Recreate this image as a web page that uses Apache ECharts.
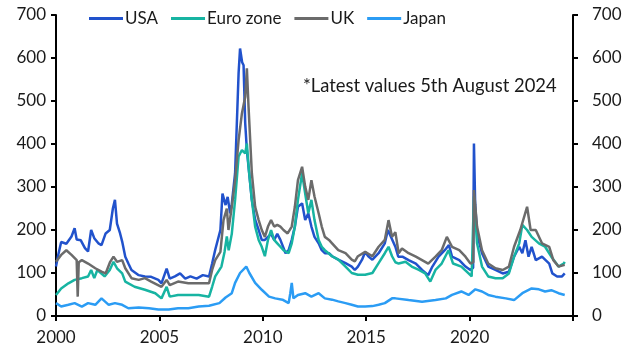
<!DOCTYPE html>
<html><head><meta charset="utf-8">
<script src="https://cdn.jsdelivr.net/npm/echarts@6/dist/echarts.min.js"></script>
<style>html,body{margin:0;padding:0;background:#fff}#c{width:631px;height:359px}</style>
</head><body><div id="c"></div>
<script>
const seriesNames = ['USA', 'Euro zone', 'UK', 'Japan'];
const xTicks = [2000, 2005, 2010, 2015, 2020];
const yTicks = [0, 100, 200, 300, 400, 500, 600, 700];
const note = '*Latest values 5th August 2024';

const usa = [[2000.0,115],[2000.1,140],[2000.25,172],[2000.5,168],[2000.75,185],[2000.9,204],[2001.0,178],[2001.2,176],[2001.4,158],[2001.55,150],[2001.7,200],[2001.85,181],[2002.05,169],[2002.2,165],[2002.4,192],[2002.6,200],[2002.75,250],[2002.85,270],[2002.95,215],[2003.1,192],[2003.2,173],[2003.35,138],[2003.5,122],[2003.65,107],[2004.0,95],[2004.3,92],[2004.6,91],[2004.95,84],[2005.1,76],[2005.35,110],[2005.5,87],[2005.75,92],[2006.0,99],[2006.25,87],[2006.5,92],[2006.8,87],[2007.1,95],[2007.4,92],[2007.55,122],[2007.7,154],[2007.95,200],[2008.05,285],[2008.2,258],[2008.3,277],[2008.42,239],[2008.5,260],[2008.66,332],[2008.83,565],[2008.9,622],[2009.0,590],[2009.07,583],[2009.15,448],[2009.23,386],[2009.47,270],[2009.63,224],[2009.8,200],[2009.95,177],[2010.1,177],[2010.25,184],[2010.4,191],[2010.55,177],[2010.7,191],[2010.85,177],[2011.1,146],[2011.25,153],[2011.4,177],[2011.55,208],[2011.7,254],[2011.9,262],[2012.05,223],[2012.2,239],[2012.35,208],[2012.5,184],[2012.7,169],[2012.85,153],[2013.0,146],[2013.2,146],[2013.35,139],[2013.65,131],[2014.0,123],[2014.3,115],[2014.45,107],[2014.6,115],[2014.8,131],[2014.95,149],[2015.1,139],[2015.3,131],[2015.6,146],[2015.9,169],[2016.05,200],[2016.2,184],[2016.41,161],[2016.55,138],[2016.75,138],[2017.05,130],[2017.4,122],[2017.7,107],[2018.0,95],[2018.2,115],[2018.5,138],[2018.8,153],[2019.0,165],[2019.15,138],[2019.5,130],[2019.8,115],[2020.04,107],[2020.17,112],[2020.21,401],[2020.27,260],[2020.35,200],[2020.44,176],[2020.6,146],[2020.9,115],[2021.25,107],[2021.6,99],[2021.9,103],[2022.15,138],[2022.4,161],[2022.55,146],[2022.7,176],[2022.85,138],[2023.0,161],[2023.2,130],[2023.5,138],[2023.85,122],[2024.0,99],[2024.23,92],[2024.47,92],[2024.6,99]];

const euro = [[2000.0,49],[2000.25,64],[2000.6,76],[2000.9,84],[2001.25,88],[2001.55,92],[2001.7,107],[2001.85,88],[2002.0,107],[2002.35,92],[2002.6,107],[2002.78,126],[2002.95,111],[2003.2,99],[2003.35,80],[2003.8,68],[2004.3,61],[2004.8,53],[2005.1,41],[2005.35,68],[2005.5,45],[2005.9,49],[2006.4,49],[2006.9,49],[2007.4,45],[2007.55,68],[2007.7,92],[2008.0,115],[2008.15,149],[2008.26,185],[2008.35,153],[2008.5,191],[2008.66,270],[2008.83,371],[2008.99,386],[2009.15,378],[2009.23,401],[2009.31,348],[2009.47,270],[2009.63,208],[2009.8,177],[2009.95,161],[2010.1,139],[2010.25,177],[2010.4,200],[2010.55,177],[2010.7,169],[2010.85,161],[2011.0,153],[2011.25,146],[2011.4,169],[2011.55,208],[2011.7,270],[2011.9,332],[2012.05,285],[2012.2,239],[2012.35,270],[2012.5,223],[2012.7,177],[2012.85,161],[2013.0,153],[2013.35,139],[2013.65,131],[2014.0,115],[2014.3,100],[2014.6,96],[2014.95,96],[2015.3,100],[2015.6,123],[2015.9,146],[2016.08,161],[2016.25,139],[2016.41,125],[2016.57,122],[2016.9,126],[2017.2,115],[2017.55,107],[2017.85,99],[2018.1,80],[2018.35,107],[2018.65,122],[2018.98,153],[2019.2,122],[2019.6,115],[2019.95,99],[2020.1,92],[2020.18,95],[2020.21,278],[2020.36,169],[2020.6,115],[2020.9,92],[2021.25,88],[2021.6,88],[2021.9,99],[2022.15,138],[2022.4,169],[2022.55,212],[2022.78,200],[2023.0,184],[2023.35,169],[2023.65,161],[2023.95,138],[2024.3,115],[2024.55,122],[2024.6,126]];

const uk = [[2000.0,126],[2000.25,142],[2000.5,153],[2000.75,142],[2001.0,130],[2001.05,45],[2001.1,125],[2001.25,130],[2001.55,122],[2001.9,111],[2002.2,103],[2002.4,99],[2002.62,126],[2002.78,138],[2002.95,126],[2003.2,130],[2003.35,111],[2003.65,88],[2004.0,84],[2004.3,88],[2004.6,80],[2005.1,68],[2005.35,84],[2005.5,72],[2005.9,80],[2006.4,76],[2006.9,76],[2007.4,76],[2007.55,107],[2007.7,130],[2007.95,149],[2008.1,223],[2008.26,250],[2008.34,200],[2008.5,254],[2008.66,316],[2008.83,409],[2008.99,471],[2009.15,510],[2009.23,576],[2009.31,487],[2009.47,332],[2009.63,254],[2009.8,223],[2009.95,200],[2010.1,184],[2010.25,208],[2010.4,223],[2010.55,208],[2010.7,212],[2010.85,208],[2011.0,200],[2011.2,192],[2011.4,208],[2011.55,254],[2011.7,316],[2011.9,347],[2012.05,301],[2012.2,270],[2012.35,316],[2012.5,278],[2012.7,239],[2012.85,208],[2013.0,184],[2013.2,177],[2013.35,169],[2013.65,153],[2014.0,146],[2014.3,131],[2014.45,127],[2014.6,139],[2014.95,149],[2015.3,139],[2015.6,161],[2015.9,177],[2016.08,223],[2016.25,184],[2016.41,195],[2016.57,146],[2016.73,157],[2017.05,146],[2017.4,138],[2017.7,130],[2018.0,122],[2018.35,138],[2018.65,153],[2018.9,184],[2019.15,161],[2019.5,153],[2019.8,138],[2020.04,122],[2020.18,125],[2020.21,293],[2020.36,208],[2020.6,153],[2020.9,122],[2021.25,111],[2021.6,107],[2021.9,115],[2022.15,161],[2022.45,200],[2022.78,254],[2022.95,200],[2023.2,200],[2023.5,169],[2023.85,161],[2024.05,130],[2024.3,115],[2024.6,119]];

const japan = [[2000.0,30],[2000.25,22],[2000.6,26],[2000.9,30],[2001.25,22],[2001.55,30],[2001.9,26],[2002.2,41],[2002.55,26],[2002.85,30],[2003.2,26],[2003.5,18],[2004.0,20],[2004.5,18],[2004.95,15],[2005.45,15],[2005.9,18],[2006.4,18],[2006.9,22],[2007.4,24],[2007.9,30],[2008.2,43],[2008.5,53],[2008.66,77],[2008.9,100],[2009.2,115],[2009.35,100],[2009.63,77],[2009.95,61],[2010.3,45],[2010.6,41],[2010.95,38],[2011.25,30],[2011.33,53],[2011.4,77],[2011.48,41],[2011.7,49],[2012.05,53],[2012.35,45],[2012.7,53],[2013.0,41],[2013.35,38],[2013.65,34],[2014.0,30],[2014.3,26],[2014.6,22],[2014.95,22],[2015.3,23],[2015.6,26],[2015.9,30],[2016.25,41],[2016.41,41],[2017.05,37],[2017.7,33],[2018.35,37],[2018.85,41],[2019.15,49],[2019.6,57],[2019.95,49],[2020.28,62],[2020.6,57],[2020.9,49],[2021.25,45],[2021.75,41],[2022.15,37],[2022.55,53],[2023.0,64],[2023.35,62],[2023.65,57],[2023.95,60],[2024.3,53],[2024.6,49]];

const colors = ['#2152cc', '#17b4a2', '#6b6b6b', '#2b9cf4'];
const dataSets = [usa, euro, uk, japan];
const FONT = 'Lato';
const FS = 17;

const chart = echarts.init(document.getElementById('c'), null, {renderer: 'canvas'});
const yAxisCommon = {
  type: 'value', min: 0, max: 700, interval: 100,
  axisLine: {show: true, lineStyle: {color: '#000', width: 2}},
  axisTick: {show: true, inside: false, length: 5, lineStyle: {color: '#000', width: 2}},
  splitLine: {show: false},
  axisLabel: {color: '#1a1a1a', fontSize: FS, fontFamily: FONT}
};
chart.setOption({
  animation: false,
  color: colors,
  textStyle: {fontFamily: FONT},
  grid: {left: 56, right: 58, top: 15, bottom: 43, containLabel: false},
  legend: {
    top: 5, left: 84, itemWidth: 34, itemHeight: 3, itemGap: 13,
    icon: 'rect',
    textStyle: {fontSize: FS, color: '#1a1a1a', fontFamily: FONT, padding: [0, 0, 0, -3]},
    data: seriesNames
  },
  xAxis: {
    type: 'value', min: 2000, max: 2025, interval: 5,
    axisLine: {show: true, onZero: false, lineStyle: {color: '#000', width: 2}},
    axisTick: {show: true, length: 5, lineStyle: {color: '#000', width: 2}},
    splitLine: {show: false},
    axisLabel: {color: '#1a1a1a', fontSize: FS, fontFamily: FONT, margin: 13,
      formatter: v => xTicks.includes(v) ? String(v) : ''}
  },
  yAxis: [
    Object.assign({}, yAxisCommon, {position: 'left', axisLabel: Object.assign({}, yAxisCommon.axisLabel, {margin: 10})}),
    Object.assign({}, yAxisCommon, {position: 'right', axisLabel: Object.assign({}, yAxisCommon.axisLabel, {margin: 19})})
  ],
  graphic: [{
    type: 'text', left: 303, top: 77,
    style: {text: note, fontSize: 18.4, fontFamily: FONT, fill: '#1a1a1a'}
  }],
  series: dataSets.map((d, i) => ({
    name: seriesNames[i], type: 'line', data: d, yAxisIndex: 0,
    symbol: 'none', smooth: false,
    lineStyle: {width: 2.5, color: colors[i]},
    itemStyle: {color: colors[i]}
  }))
});
</script></body></html>
